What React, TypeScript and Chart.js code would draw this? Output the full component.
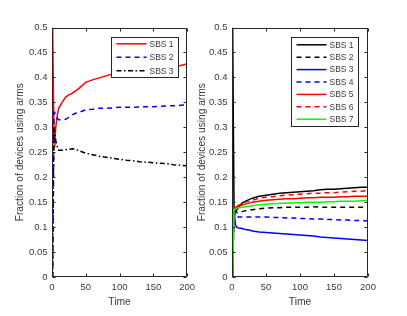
import React, { useEffect, useRef } from "react";
import { Chart, registerables } from "chart.js";
Chart.register(...registerables);

const times = [1, 2, 3, 4, 5, 6, 8, 10, 15, 20, 25, 30, 35, 40, 50, 60, 70, 80, 90, 100, 110, 120, 130, 140, 150, 160, 170, 180, 190, 200];

const leftLabels = ["SBS 1", "SBS 2", "SBS 3"];
const leftSBS1 = [0.5, 0.38, 0.27, 0.26, 0.29, 0.305, 0.325, 0.338, 0.35, 0.36, 0.365, 0.368, 0.373, 0.378, 0.39, 0.395, 0.399, 0.403, 0.407, 0.41, 0.412, 0.415, 0.417, 0.418, 0.42, 0.421, 0.422, 0.423, 0.424, 0.427];
const leftSBS2 = [0, 0.15, 0.33, 0.33, 0.325, 0.32, 0.318, 0.315, 0.315, 0.316, 0.32, 0.325, 0.328, 0.33, 0.335, 0.336, 0.338, 0.338, 0.339, 0.34, 0.34, 0.34, 0.341, 0.341, 0.341, 0.342, 0.343, 0.343, 0.344, 0.345];
const leftSBS3 = [0, 0.2, 0.3, 0.29, 0.28, 0.27, 0.26, 0.254, 0.254, 0.255, 0.256, 0.257, 0.256, 0.253, 0.248, 0.245, 0.242, 0.24, 0.238, 0.236, 0.234, 0.233, 0.231, 0.23, 0.229, 0.228, 0.227, 0.225, 0.224, 0.223];

const rightLabels = ["SBS 1", "SBS 2", "SBS 3", "SBS 4", "SBS 5", "SBS 6", "SBS 7"];
const rightSBS1 = [0.5, 0.3, 0.14, 0.135, 0.133, 0.133, 0.136, 0.141, 0.148, 0.152, 0.155, 0.158, 0.16, 0.162, 0.164, 0.166, 0.168, 0.169, 0.17, 0.171, 0.172, 0.173, 0.175, 0.176, 0.176, 0.177, 0.178, 0.179, 0.18, 0.18];
const rightSBS2 = [0, 0.1, 0.14, 0.138, 0.133, 0.13, 0.129, 0.13, 0.131, 0.133, 0.134, 0.135, 0.136, 0.137, 0.138, 0.139, 0.139, 0.14, 0.14, 0.14, 0.14, 0.141, 0.14, 0.14, 0.14, 0.14, 0.14, 0.14, 0.14, 0.14];
const rightSBS3 = [0, 0.08, 0.13, 0.12, 0.105, 0.102, 0.099, 0.098, 0.097, 0.095, 0.094, 0.092, 0.091, 0.09, 0.089, 0.088, 0.087, 0.086, 0.085, 0.084, 0.083, 0.082, 0.08, 0.079, 0.078, 0.077, 0.076, 0.075, 0.074, 0.073];
const rightSBS4 = [0, 0.08, 0.13, 0.125, 0.12, 0.12, 0.12, 0.12, 0.12, 0.12, 0.12, 0.12, 0.12, 0.12, 0.12, 0.119, 0.119, 0.118, 0.118, 0.117, 0.117, 0.116, 0.116, 0.115, 0.115, 0.114, 0.114, 0.113, 0.113, 0.112];
const rightSBS5 = [0, 0.08, 0.138, 0.14, 0.14, 0.14, 0.141, 0.142, 0.144, 0.146, 0.148, 0.15, 0.151, 0.152, 0.154, 0.155, 0.156, 0.157, 0.157, 0.158, 0.159, 0.159, 0.16, 0.16, 0.16, 0.161, 0.161, 0.162, 0.162, 0.162];
const rightSBS6 = [0, 0.08, 0.138, 0.14, 0.141, 0.141, 0.142, 0.144, 0.147, 0.15, 0.152, 0.154, 0.156, 0.158, 0.16, 0.161, 0.163, 0.164, 0.165, 0.166, 0.167, 0.168, 0.168, 0.169, 0.169, 0.17, 0.171, 0.172, 0.172, 0.173];
const rightSBS7 = [0, 0.08, 0.135, 0.136, 0.136, 0.137, 0.138, 0.139, 0.14, 0.141, 0.142, 0.143, 0.144, 0.145, 0.146, 0.147, 0.148, 0.148, 0.149, 0.149, 0.15, 0.15, 0.15, 0.151, 0.151, 0.152, 0.152, 0.152, 0.153, 0.154];

const xTicks = [0, 50, 100, 150, 200];
const yTicks = [0, 0.05, 0.1, 0.15, 0.2, 0.25, 0.3, 0.35, 0.4, 0.45, 0.5];
const xTitle = "Time";
const yTitle = "Fraction of devices using arms";

const FONT = "'Liberation Sans', Arial, Helvetica, sans-serif";
const AXIS_COLOR = "#262626";
const TEXT_COLOR = "#3a3a3a";

const pts = (vals: number[]) => vals.map((v, i) => ({ x: times[i], y: v }));

const matlabAxes = {
  id: "matlabAxes",
  afterDatasetsDraw(chart: any) {
    const { ctx, chartArea: a, scales } = chart;
    const x = scales.x, y = scales.y;
    const L = Math.round(a.left) + 0.5, R = Math.round(a.right) - 0.5;
    const T = Math.round(a.top) + 0.5, B = Math.round(a.bottom) - 0.5;
    ctx.save();
    ctx.strokeStyle = AXIS_COLOR;
    ctx.lineWidth = 1;
    ctx.beginPath();
    ctx.rect(L, T, R - L, B - T);
    const tl = 3;
    xTicks.forEach((v) => {
      const px = Math.round(x.getPixelForValue(v)) + 0.5;
      ctx.moveTo(px, B); ctx.lineTo(px, B - tl);
      ctx.moveTo(px, T); ctx.lineTo(px, T + tl);
    });
    yTicks.forEach((v) => {
      const py = Math.round(y.getPixelForValue(v)) + 0.5;
      ctx.moveTo(L, py); ctx.lineTo(L + tl, py);
      ctx.moveTo(R, py); ctx.lineTo(R - tl, py);
    });
    ctx.stroke();
    ctx.restore();
  },
  afterDraw(chart: any) {
    const opts = chart.options.plugins.matlabLegend;
    if (!opts) return;
    const { ctx, chartArea: a } = chart;
    const ds = chart.data.datasets;
    ctx.save();
    ctx.font = `8.5px ${FONT}`;
    let tw = 0;
    ds.forEach((d: any) => { tw = Math.max(tw, ctx.measureText(d.label).width); });
    const padL = 5, lineLen = 30, gap = 3, padR = 5;
    const w = Math.round(padL + lineLen + gap + tw + padR);
    const h = Math.round(opts.pad * 2 + opts.rowH * (ds.length - 1));
    const bx = Math.round(a.right - opts.inset - w) + 0.5;
    const by = Math.round(a.top + opts.top) + 0.5;
    ctx.fillStyle = "#ffffff";
    ctx.fillRect(bx, by, w, h);
    ctx.strokeStyle = AXIS_COLOR;
    ctx.lineWidth = 1;
    ctx.strokeRect(bx, by, w, h);
    ds.forEach((d: any, i: number) => {
      const ry = by + opts.pad + i * opts.rowH;
      ctx.beginPath();
      ctx.setLineDash(d.borderDash || []);
      ctx.strokeStyle = d.borderColor;
      ctx.lineWidth = d.borderWidth;
      ctx.moveTo(bx + padL, ry);
      ctx.lineTo(bx + padL + lineLen, ry);
      ctx.stroke();
      ctx.setLineDash([]);
      ctx.fillStyle = TEXT_COLOR;
      ctx.textAlign = "left";
      ctx.textBaseline = "middle";
      ctx.fillText(d.label, bx + padL + lineLen + gap, ry + 0.5);
    });
    ctx.restore();
  },
};

type Series = { label: string; data: number[]; color: string; dash: number[] };

function buildConfig(series: Series[], plotLeft: number, rightPad: number, titlePad: number, legend: any) {
  const n = series.length;
  return {
    type: "line" as const,
    data: {
      datasets: series.map((s, i) => ({
        label: s.label,
        data: pts(s.data),
        borderColor: s.color,
        backgroundColor: s.color,
        borderWidth: 1.5,
        borderDash: s.dash,
        pointRadius: 0,
        tension: 0,
        fill: false,
        order: n - i,
      })),
    },
    options: {
      responsive: false,
      animation: false as const,
      devicePixelRatio: 1,
      layout: { padding: { left: 0, right: rightPad, top: 27.5, bottom: 0 } },
      plugins: {
        legend: { display: false },
        tooltip: { enabled: false },
        matlabLegend: legend,
      },
      scales: {
        x: {
          type: "linear" as const,
          min: 0,
          max: 200,
          afterBuildTicks: (scale: any) => { scale.ticks = xTicks.map((v) => ({ value: v })); },
          ticks: { padding: 5, color: TEXT_COLOR, font: { family: FONT, size: 9.5 }, maxRotation: 0 },
          grid: { display: false, drawTicks: false },
          border: { display: false },
          title: { display: true, text: xTitle, color: TEXT_COLOR, font: { family: FONT, size: 10.3 }, padding: { top: 0, bottom: 7.5 } },
          afterFit: (scale: any) => { scale.height = 39; },
        },
        y: {
          type: "linear" as const,
          min: 0,
          max: 0.5,
          afterBuildTicks: (scale: any) => { scale.ticks = yTicks.map((v) => ({ value: v })); },
          ticks: { padding: 4.5, color: TEXT_COLOR, font: { family: FONT, size: 9.5 }, callback: (v: any) => String(+Number(v).toFixed(2)) },
          grid: { display: false, drawTicks: false },
          border: { display: false },
          title: { display: true, text: yTitle, color: TEXT_COLOR, font: { family: FONT, size: 10.2 }, padding: { top: titlePad, bottom: 0 } },
          afterFit: (scale: any) => { scale.width = plotLeft; },
        },
      },
    },
    plugins: [matlabAxes],
  };
}

function ChartCanvas({ config, left, width }: { config: any; left: number; width: number }) {
  const ref = useRef<HTMLCanvasElement | null>(null);
  useEffect(() => {
    if (!ref.current) return;
    const chart = new Chart(ref.current, config);
    return () => chart.destroy();
  }, []);
  return (
    <canvas
      ref={ref}
      width={width}
      height={316}
      style={{ position: "absolute", left, top: 0, width, height: 316 }}
    />
  );
}

export default function App() {
  const leftSeries: Series[] = [
    { label: leftLabels[0], data: leftSBS1, color: "#ff0000", dash: [] },
    { label: leftLabels[1], data: leftSBS2, color: "#0000ff", dash: [5, 4] },
    { label: leftLabels[2], data: leftSBS3, color: "#000000", dash: [5, 2.5, 1.5, 2.5] },
  ];
  const rightSeries: Series[] = [
    { label: rightLabels[0], data: rightSBS1, color: "#000000", dash: [] },
    { label: rightLabels[1], data: rightSBS2, color: "#000000", dash: [5, 4] },
    { label: rightLabels[2], data: rightSBS3, color: "#0000ff", dash: [] },
    { label: rightLabels[3], data: rightSBS4, color: "#0000ff", dash: [5, 4] },
    { label: rightLabels[4], data: rightSBS5, color: "#ff0000", dash: [] },
    { label: rightLabels[5], data: rightSBS6, color: "#ff0000", dash: [5, 4] },
    { label: rightLabels[6], data: rightSBS7, color: "#00ff00", dash: [] },
  ];
  const leftConfig = buildConfig(leftSeries, 52, 12, 14, { inset: 9, top: 9.5, rowH: 13.5, pad: 6.3 });
  const rightConfig = buildConfig(rightSeries, 36, 39, 0, { inset: 10, top: 9.5, rowH: 12.4, pad: 7.3 });
  return (
    <div style={{ position: "absolute", left: 0, top: 0, width: 407, height: 316, background: "#ffffff" }}>
      <ChartCanvas config={leftConfig} left={0} width={200} />
      <ChartCanvas config={rightConfig} left={196} width={211} />
    </div>
  );
}
